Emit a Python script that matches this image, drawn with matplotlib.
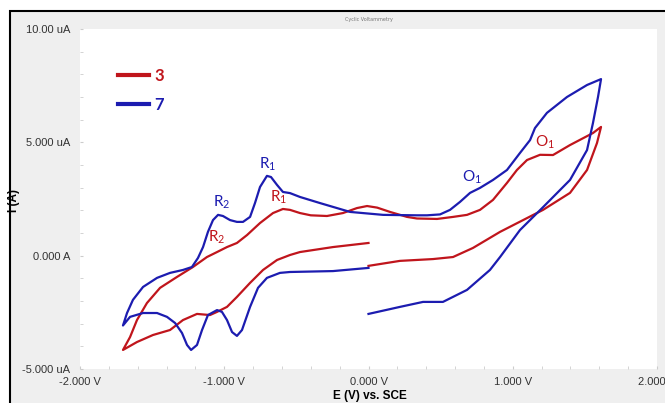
import numpy as np
import matplotlib.pyplot as plt
from matplotlib.patches import Rectangle
from matplotlib.ticker import MultipleLocator

# scan 3 (red) and scan 7 (blue), potential in V, current in uA
e_3 = [0.0, 0.218, 0.447, 0.586, 0.724, 0.912, 1.210, 1.397, 1.515, 1.584, 1.612,
       1.556, 1.397, 1.279, 1.189, 1.099, 1.029, 0.960, 0.863, 0.773, 0.683, 0.586,
       0.475, 0.336, 0.267, 0.149, 0.060, -0.010, -0.080, -0.177, -0.288, -0.400,
       -0.475, -0.544, -0.593, -0.662, -0.752, -0.842, -0.912, -0.981, -1.050,
       -1.120, -1.217, -1.328, -1.445, -1.536, -1.605, -1.653, -1.702,
       -1.605, -1.494, -1.376, -1.286, -1.189, -1.099, -1.050, -0.981, -0.912,
       -0.821, -0.731, -0.634, -0.544, -0.475, -0.246, 0.0]
i_3 = [-0.45, -0.23, -0.15, -0.06, 0.34, 1.05, 2.02, 2.77, 3.78, 4.97, 5.68,
       5.41, 4.88, 4.44, 4.45, 4.22, 3.78, 3.21, 2.46, 2.02, 1.80, 1.71,
       1.62, 1.64, 1.71, 1.93, 2.12, 2.19, 2.10, 1.88, 1.75, 1.78,
       1.88, 2.02, 2.06, 1.88, 1.44, 0.91, 0.56, 0.38, 0.16,
       -0.06, -0.50, -0.94, -1.42, -2.09, -2.84, -3.59, -4.16,
       -3.81, -3.50, -3.28, -2.84, -2.57, -2.62, -2.48, -2.26, -1.82,
       -1.20, -0.63, -0.19, 0.03, 0.16, 0.38, 0.56]

e_7 = [0.0, 0.218, 0.378, 0.516, 0.683, 0.842, 0.912, 1.050, 1.210, 1.397, 1.515,
       1.556, 1.591, 1.612,
       1.515, 1.376, 1.237, 1.154, 1.120, 1.050, 0.960, 0.863, 0.773, 0.704, 0.634,
       0.565, 0.496, 0.406, 0.336, 0.101, -0.128, -0.336, -0.475, -0.544, -0.593,
       -0.634, -0.676, -0.704, -0.752, -0.787, -0.821, -0.870, -0.912, -0.960,
       -1.009, -1.043, -1.078, -1.113, -1.147, -1.182, -1.224, -1.286, -1.376,
       -1.466, -1.563, -1.633, -1.674, -1.702,
       -1.653, -1.563, -1.466, -1.397, -1.341, -1.293, -1.258, -1.230, -1.189,
       -1.154, -1.113, -1.050, -1.016, -0.981, -0.946, -0.912, -0.877, -0.821,
       -0.766, -0.704, -0.614, -0.544, -0.246, 0.0]
i_7 = [-2.57, -2.26, -2.04, -2.04, -1.51, -0.63, -0.06, 1.13, 2.14, 3.34, 4.66,
       5.85, 7.00, 7.79,
       7.53, 7.00, 6.30, 5.63, 5.10, 4.53, 3.78, 3.34, 2.99, 2.77, 2.37,
       2.02, 1.82, 1.78, 1.78, 1.80, 1.93, 2.32, 2.59, 2.76, 2.81,
       3.12, 3.47, 3.52, 3.03, 2.32, 1.71, 1.49, 1.49, 1.57,
       1.75, 1.80, 1.57, 1.05, 0.38, -0.10, -0.50, -0.63, -0.76,
       -0.98, -1.38, -1.95, -2.53, -3.08,
       -2.70, -2.53, -2.53, -2.70, -2.97, -3.41, -3.94, -4.16, -3.94,
       -3.28, -2.62, -2.40, -2.48, -2.84, -3.37, -3.54, -3.28, -2.26,
       -1.42, -0.98, -0.76, -0.72, -0.68, -0.54]

xticks = [-2, -1, 0, 1, 2]
xtick_labels = ["-2.000 V", "-1.000 V", "0.000 V", "1.000 V", "2.000 V"]
yticks = [-5, 0, 5, 10]
ytick_labels = ["-5.000 uA", "0.000 A", "5.000 uA", "10.00 uA"]

# peak labels: text, potential, current, colour key
peaks = [("R$_\\mathregular{1}$", -0.70, 4.05, "7"),
         ("R$_\\mathregular{2}$", -1.02, 2.35, "7"),
         ("R$_\\mathregular{1}$", -0.62, 2.60, "3"),
         ("R$_\\mathregular{2}$", -1.05, 0.80, "3"),
         ("O$_\\mathregular{1}$", 0.72, 3.45, "7"),
         ("O$_\\mathregular{1}$", 1.22, 5.00, "3")]

red = "#c0151c"
blue = "#1c1cb0"
colours = {"3": red, "7": blue}
narrow = ["Liberation Sans Narrow", "Liberation Sans", "DejaVu Sans"]

fig = plt.figure(figsize=(6.65, 4.03), dpi=100)
fig.patch.set_facecolor("white")
fig.add_artist(Rectangle((10 / 665, -0.1), 1.2, 1 - 11 / 403 + 0.1, transform=fig.transFigure,
                         facecolor="#efefef", edgecolor="black", linewidth=1.5, zorder=-10))

ax = fig.add_axes([80 / 665, 1 - 369 / 403, 577 / 665, 340 / 403])
ax.set_facecolor("white")
for s in ax.spines.values():
    s.set_visible(False)

ax.plot(e_3, i_3, color=red, lw=1.6, label="3")
ax.plot(e_7, i_7, color=blue, lw=1.6, label="7")

for txt, x, y, key in peaks:
    ax.text(x, y, txt, color=colours[key], fontsize=11, family="Lato", ha="center", va="center")

ax.set_xlim(-2, 2)
ax.set_ylim(-5, 10)
ax.set_xticks(xticks)
ax.set_xticklabels(xtick_labels, family=narrow, fontsize=8, color="#333333")
ax.set_yticks(yticks)
ax.set_yticklabels(ytick_labels, family=narrow, fontsize=8, color="#333333")
ax.xaxis.set_minor_locator(MultipleLocator(0.2))
ax.yaxis.set_minor_locator(MultipleLocator(1))
ax.tick_params(which="both", length=2, color="#cccccc", direction="in")
ax.tick_params(axis="x", which="major", pad=6)
ax.tick_params(axis="y", which="major", pad=7)

leg = ax.legend(loc="upper left", bbox_to_anchor=(0.065, 0.885), frameon=False,
                handlelength=1.9, handletextpad=0.3, labelspacing=0.75, borderpad=0,
                borderaxespad=0, labelcolor="linecolor",
                prop={"family": "Lato", "weight": "bold", "size": 12})
for ln in leg.get_lines():
    ln.set_linewidth(3)

ax.set_title("Cyclic Voltammetry", fontsize=3.5, color="#777777", pad=6)
fig.text(370 / 665, 1 - 396 / 403, "E (V) vs. SCE", ha="center", va="center",
         fontsize=8.5, weight="bold", family=narrow)
fig.text(14 / 665, 1 - 200 / 403, "I (A)", ha="center", va="center", rotation=90,
         fontsize=8.5, weight="bold", family=narrow)

fig.savefig("out.png", dpi=100)
